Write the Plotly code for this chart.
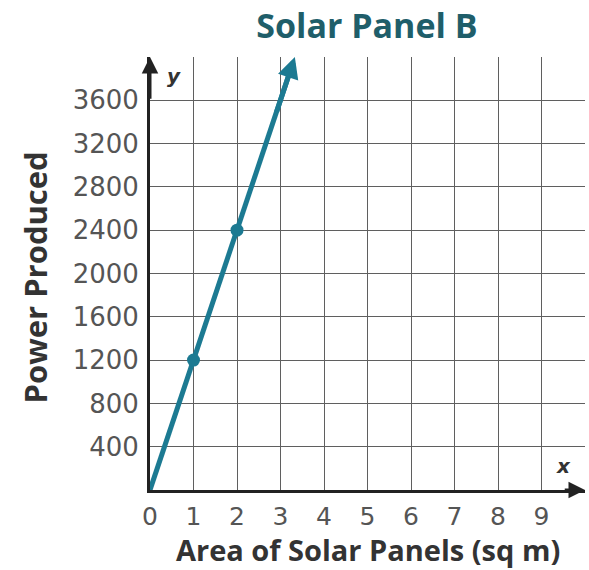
import plotly.graph_objects as go

# Data
title_text = "Solar Panel B"
x_title = "Area of Solar Panels (sq m)"
y_title = "Power Produced"
line_x = [0, 1, 2, 3.33]
line_y = [0, 1200, 2400, 4000]
point_x = [1, 2]
point_y = [1200, 2400]
x_ticks = [0, 1, 2, 3, 4, 5, 6, 7, 8, 9, 10]
x_ticklabels = ["0", "1", "2", "3", "4", "5", "6", "7", "8", "9", ""]
y_ticks = [0, 400, 800, 1200, 1600, 2000, 2400, 2800, 3200, 3600, 4000]
y_ticklabels = ["", "400", "800", "1200", "1600", "2000", "2400", "2800", "3200", "3600", ""]

teal = "#1c7a92"
fig = go.Figure()
fig.add_trace(go.Scatter(x=line_x[:-1] + [line_x[-1] - 0.08], y=line_y[:-1] + [line_y[-1] - 96],
                         mode="lines", line=dict(color=teal, width=5), hoverinfo="skip"))
fig.add_trace(go.Scatter(x=point_x, y=point_y, mode="markers",
                         marker=dict(color=teal, size=13), hoverinfo="skip"))

annotations = [
    # line arrowhead
    dict(x=line_x[-1], y=line_y[-1], ax=line_x[-2] + 0.9, ay=line_y[-2] + 1080,
         xref="x", yref="y", axref="x", ayref="y", showarrow=True, arrowhead=2,
         arrowsize=0.85, arrowwidth=5, arrowcolor=teal, text=""),
    # x axis arrow
    dict(x=10, y=0, ax=9.5, ay=0, xref="x", yref="y", axref="x", ayref="y",
         showarrow=True, arrowhead=2, arrowsize=1.1, arrowwidth=3, arrowcolor="#222", text=""),
    # y axis arrow
    dict(x=0, y=4000, ax=0, ay=3600, xref="x", yref="y", axref="x", ayref="y",
         showarrow=True, arrowhead=2, arrowsize=1.1, arrowwidth=3, arrowcolor="#222", text=""),
    dict(x=0.55, y=3820, xref="x", yref="y", text="<b><i>y</i></b>", showarrow=False,
         font=dict(family="DejaVu Sans", size=20, color="#333")),
    dict(x=9.5, y=220, xref="x", yref="y", text="<b><i>x</i></b>", showarrow=False,
         font=dict(family="DejaVu Sans", size=20, color="#333")),
    # axis titles
    dict(x=0.5, y=0, xref="paper", yref="paper", xanchor="center", yanchor="middle",
         yshift=-59, text="<b>" + x_title + "</b>", showarrow=False,
         font=dict(family="Open Sans", size=29, color="#333")),
    dict(x=0, y=0.5, xref="paper", yref="paper", xanchor="center", yanchor="middle",
         xshift=-116, yshift=-4, textangle=-90, text="<b>" + y_title + "</b>", showarrow=False,
         font=dict(family="Open Sans", size=31, color="#333")),
]

fig.update_layout(
    width=589, height=570,
    margin=dict(l=150, r=4, t=57, b=80, autoexpand=False),
    paper_bgcolor="white", plot_bgcolor="white",
    showlegend=False,
    title=dict(text="<b>" + title_text + "</b>", x=0.623, xanchor="center", y=0.955, yanchor="middle",
               font=dict(family="Open Sans", size=34, color="#1f5e6a")),
    annotations=annotations,
    xaxis=dict(range=[0, 10], tickvals=x_ticks, ticktext=x_ticklabels, automargin=False,
               showgrid=True, gridcolor="#5f5f5f", gridwidth=1,
               showline=True, linecolor="#222", linewidth=3,
               zeroline=False, ticks="", ticklabelstandoff=2,
               tickfont=dict(family="DejaVu Sans", size=25, color="#555")),
    yaxis=dict(range=[0, 4000], tickvals=y_ticks, ticktext=y_ticklabels, automargin=False,
               showgrid=True, gridcolor="#5f5f5f", gridwidth=1,
               showline=True, linecolor="#222", linewidth=3,
               zeroline=False, ticks="", ticklabelstandoff=3,
               tickfont=dict(family="DejaVu Sans", size=26, color="#555")),
)

fig.write_html("out.html", config={"displayModeBar": False},
               post_script="document.body.style.margin='0';document.body.style.overflow='hidden';")
